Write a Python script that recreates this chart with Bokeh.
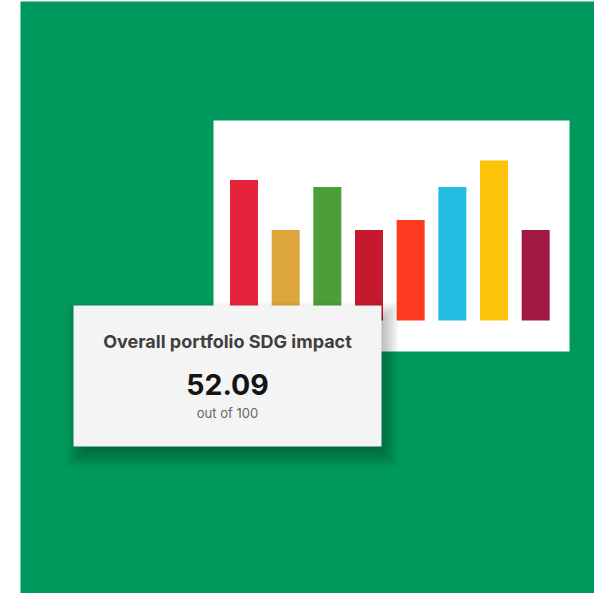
from bokeh.plotting import figure
from bokeh.models import Range1d, ColumnDataSource
from bokeh.core.properties import value
from bokeh.embed import file_html
from bokeh.resources import INLINE

# ---- data ----
goals = ["SDG 1", "SDG 2", "SDG 3", "SDG 4", "SDG 5", "SDG 6", "SDG 7", "SDG 8"]
scores = [7.03, 4.53, 6.67, 4.53, 5.02, 6.67, 8.0, 4.53]
bar_colors = ["#E5243B", "#DDA63A", "#4C9F38", "#C5192D", "#FF3A21", "#26BDE2", "#FCC30B", "#A21942"]
card_title = "Overall portfolio SDG impact"
overall_score = "52.09"
score_note = "out of 100"

W, H = 594, 593
FONT = value("Inter")

p = figure(width=W, height=H, x_range=Range1d(0, W), y_range=Range1d(H, 0),
           output_backend="svg", toolbar_location=None, min_border=0,
           x_axis_location=None, y_axis_location=None,
           outline_line_color=None, background_fill_color="white",
           border_fill_color="white")
p.grid.visible = False

# bar scale: bar index -> x, score -> y (own ranges)
step = 41.67
x0 = 243.5 - step
base_px = 320.0
unit_px = 20.0
p.extra_x_ranges = {"bars": Range1d(-x0 / step, (W - x0) / step)}
p.extra_y_ranges = {"bars": Range1d((base_px - H) / unit_px, base_px / unit_px)}

# green background
p.quad(left=20, right=W, top=1, bottom=H, fill_color="#00995D", line_color=None)
# white chart panel
p.quad(left=213, right=569, top=120, bottom=351, fill_color="white", line_color=None)

src = ColumnDataSource(dict(goal=goals, idx=list(range(1, len(goals) + 1)),
                            score=scores, color=bar_colors))
p.vbar(x="idx", top="score", bottom=0, width=28 / step, source=src,
       fill_color="color", line_color=None,
       x_range_name="bars", y_range_name="bars")

# card shadow (soft, offset down-right)
cl, cr, ct, cb = 73, 381, 305, 446
for k in range(10):
    s = -6 + k * 2.0
    p.quad(left=cl + 5 - s, right=cr + 5 + s, top=ct + 9 - s, bottom=cb + 9 + s,
           fill_color="black", fill_alpha=0.03, line_color=None)

# card
p.quad(left=cl, right=cr, top=ct, bottom=cb, fill_color="#F4F4F4", line_color=None)

cx = (cl + cr) / 2
p.text(x=[cx], y=[341], text=[card_title], text_font=FONT, text_font_size="18px",
       text_font_style="bold", text_color="#3f3f3f", text_align="center",
       text_baseline="middle")
p.text(x=[cx], y=[383.5], text=[overall_score], text_font=FONT, text_font_size="28.5px",
       text_font_style="bold", text_color="#141414", text_align="center",
       text_baseline="middle")
p.text(x=[cx], y=[412.5], text=[score_note], text_font=FONT, text_font_size="13px",
       text_color="#666666", text_align="center", text_baseline="middle")

open("out.html", "w").write(file_html(p, INLINE))
